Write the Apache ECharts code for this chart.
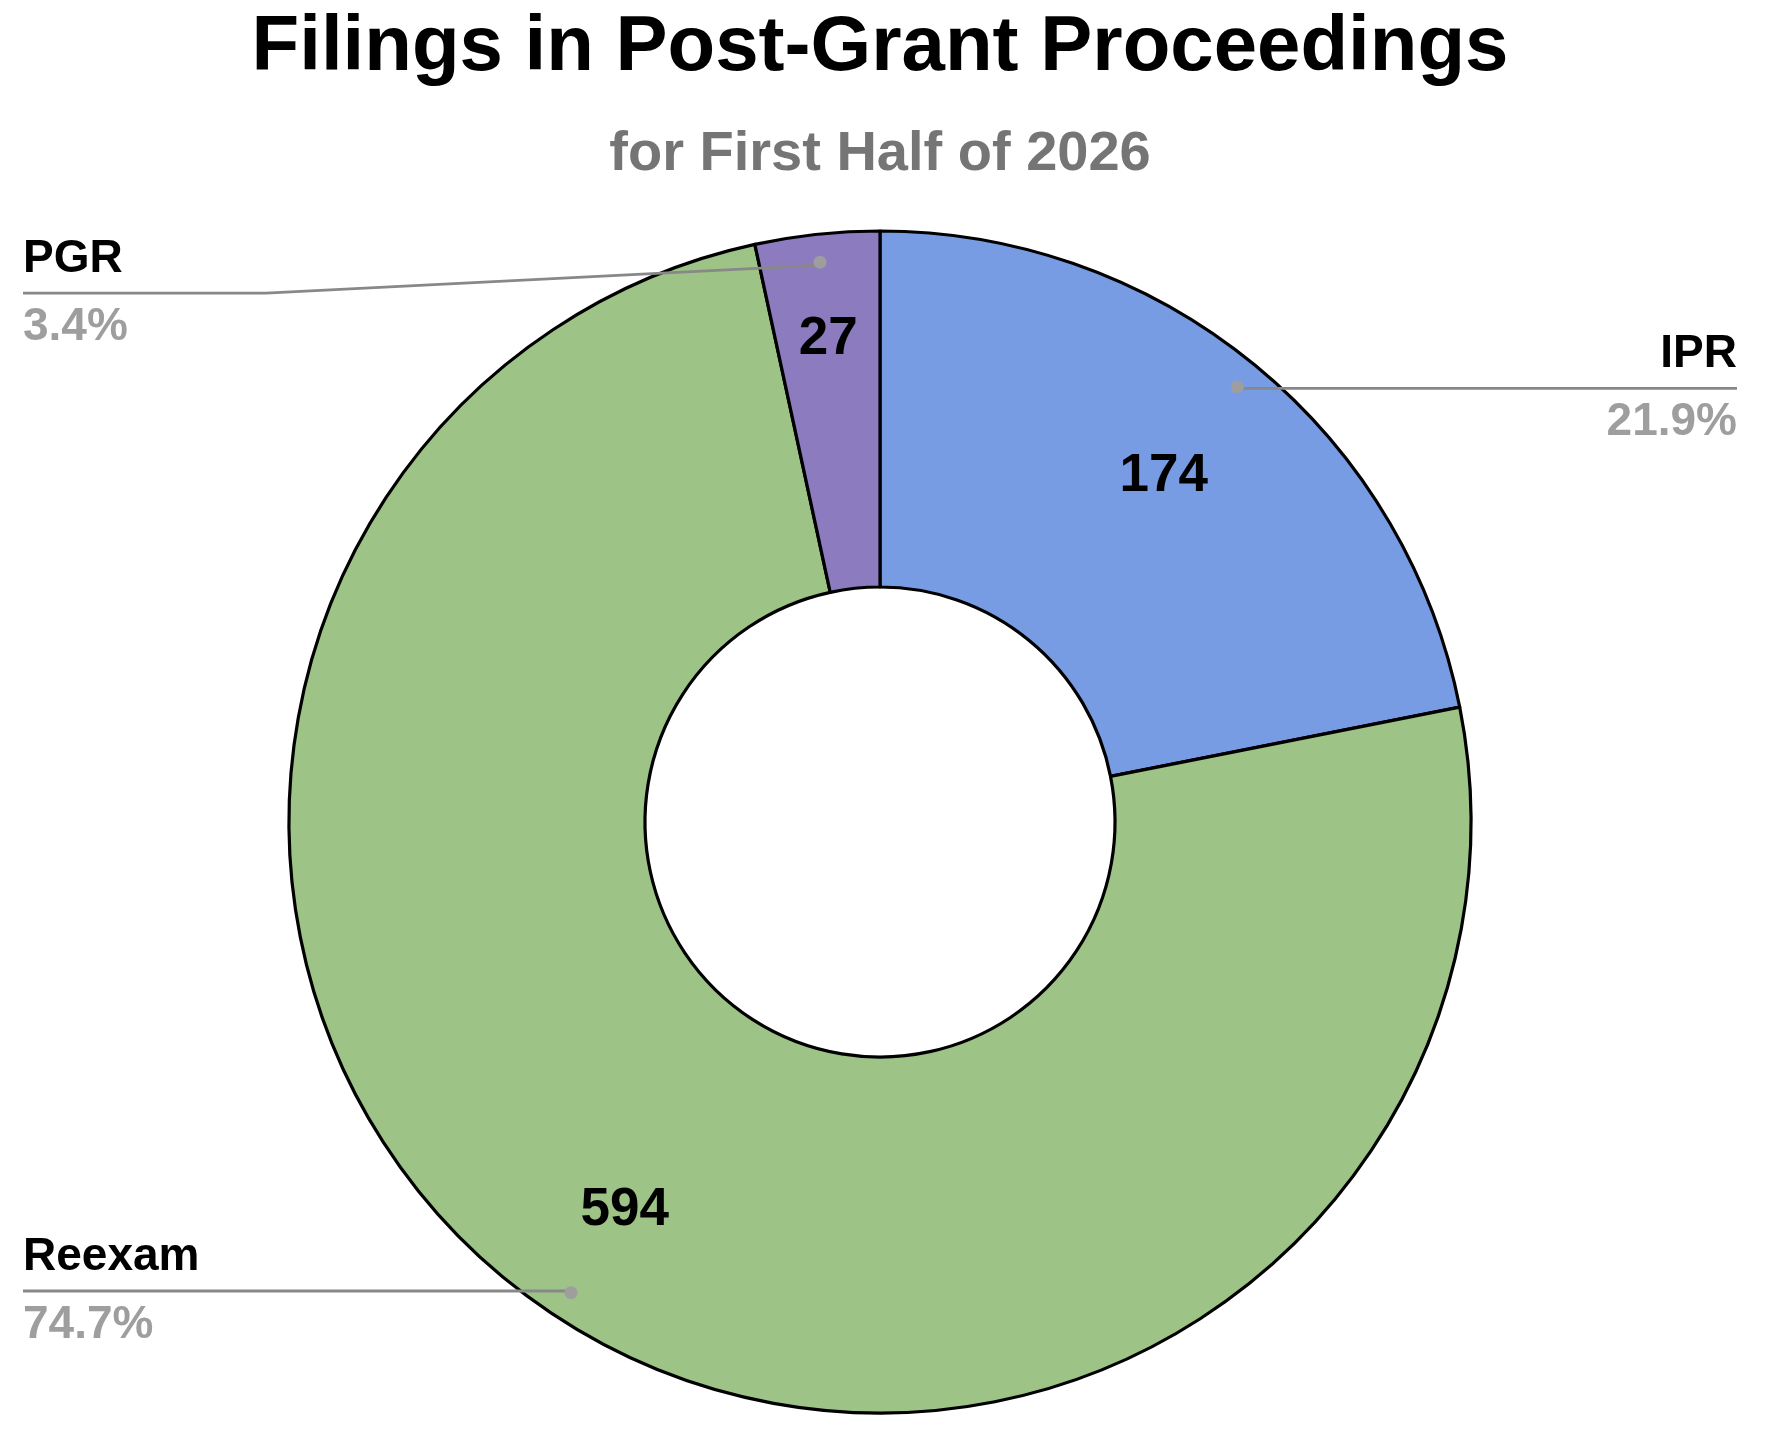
<!DOCTYPE html>
<html>
<head>
<meta charset="utf-8">
<title>Filings in Post-Grant Proceedings</title>
<script src="https://cdn.jsdelivr.net/npm/echarts@6/dist/echarts.min.js"></script>
<style>
  html, body { margin: 0; padding: 0; background: #fff; }
  #chartDom { width: 1760px; height: 1430px; }
</style>
</head>
<body>
<div id="chartDom"></div>
<script>
// values
const categories = ['IPR', 'Reexam', 'PGR'];
const filings = [174, 594, 27];

const titleText = 'Filings in Post-Grant Proceedings';
const subTitleText = 'for First Half of 2026';

const FONT = '"Liberation Sans", Arial, sans-serif';
const CENTER = [880, 822];
const OUTER = 591;
const LABEL_W = 260;
// where the value numbers sit, distance from centre (per slice)
const valueLabelRadius = [444, 462, 482];

const pieData = categories.map((name, i) => ({ name: name, value: filings[i] }));

// invisible helper ring, only used to place labels / leader lines
function ghost(extra) {
  return Object.assign({
    type: 'pie',
    center: CENTER,
    silent: true,
    startAngle: 90,
    data: pieData,
    itemStyle: { color: 'transparent', borderWidth: 0 },
    emphasis: { disabled: true },
    labelLine: { show: false }
  }, extra);
}

// one ghost ring per value label so each number can sit at its own radius
const valueLabelSeries = valueLabelRadius.map((r, k) => ghost({
  radius: [2 * r - OUTER, OUTER],
  data: pieData.map((d, i) => ({ name: d.name, value: d.value, label: { show: i === k } })),
  label: {
    position: 'inside',
    formatter: '{c}',
    fontFamily: FONT,
    fontSize: 53,
    fontWeight: 'bold',
    color: '#000'
  }
}));

const chart = echarts.init(document.getElementById('chartDom'));
chart.setOption({
  animation: false,
  color: ['#789ce3', '#9ec386', '#8c7bbf'],
  title: {
    text: titleText,
    subtext: subTitleText,
    left: 'center',
    top: 4,
    itemGap: 40,
    textStyle: { fontFamily: FONT, fontSize: 78, fontWeight: 'bold', color: '#000' },
    subtextStyle: { fontFamily: FONT, fontSize: 56, fontWeight: 'bold', color: '#757575' }
  },
  series: [
    {
      // the donut itself
      type: 'pie',
      center: CENTER,
      radius: [235, OUTER],
      startAngle: 90,
      silent: true,
      data: pieData,
      itemStyle: { borderColor: '#000', borderWidth: 3.2 },
      emphasis: { disabled: true },
      label: { show: false },
      labelLine: { show: false }
    },
    ...valueLabelSeries,
    ghost({
      // name + percent with leader line running under the text to the edge
      radius: [0, 560],
      z: 3,
      percentPrecision: 1,
      label: {
        show: true,
        position: 'outside',
        alignTo: 'edge',
        edgeDistance: 23,
        distanceToLabelLine: -LABEL_W,
        formatter: '{n|{b}}\n{p|{d}%}',
        rich: {
          n: { width: LABEL_W, fontFamily: FONT, fontSize: 46, fontWeight: 'bold', color: '#000', lineHeight: 68 },
          p: { width: LABEL_W, fontFamily: FONT, fontSize: 46, fontWeight: 'bold', color: '#9e9e9e', lineHeight: 68 }
        }
      },
      labelLine: {
        show: true,
        length: 1,
        length2: 10,
        lineStyle: { color: '#888', width: 2.8 }
      },
      // PGR label sits a little lower, its leader line slants down to it
      labelLayout: function (params) {
        if (params.dataIndex !== 2 || !params.labelLinePoints) return;
        const pts = params.labelLinePoints;
        const drop = 29;
        const endX = pts[2][0];
        const y = pts[2][1] + drop;
        return {
          dy: drop,
          labelLinePoints: [pts[0], [endX + 243, y], [endX, y]]
        };
      }
    }),
    ghost({
      // little dots where the leader lines start
      radius: [550, 570],
      z: 4,
      label: {
        show: true,
        position: 'inside',
        formatter: ' ',
        width: 13,
        height: 13,
        padding: 0,
        borderRadius: 6.5,
        backgroundColor: '#9e9e9e'
      }
    })
  ]
});
</script>
</body>
</html>
